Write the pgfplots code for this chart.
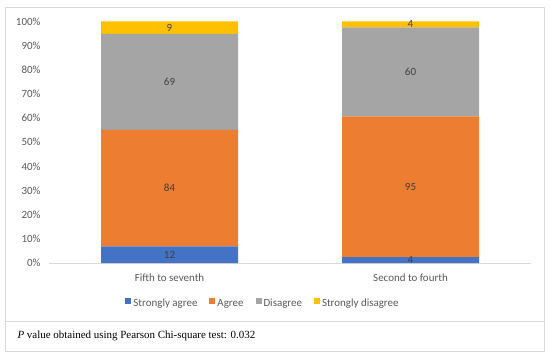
\documentclass[border=0pt]{standalone}
\usepackage{fontspec}
\setmainfont{Carlito}
\newfontfamily\capfont{Liberation Serif}
\usepackage{pgfplots}
\usepackage{pgfplotstable}
\pgfplotsset{compat=1.18}
\definecolor{cSA}{HTML}{4472C4}
\definecolor{cA}{HTML}{ED7D31}
\definecolor{cD}{HTML}{A5A5A5}
\definecolor{cSD}{HTML}{FFC000}
\definecolor{txt}{HTML}{595959}
\definecolor{lbl}{HTML}{404040}
\definecolor{frame}{HTML}{D9D9D9}
\pgfplotstableread{
x sa a d sd
0 12 84 69 9
1 4 95 60 4
}\data
\newcommand{\T}{(\thisrow{sa}+\thisrow{a}+\thisrow{d}+\thisrow{sd})}
\pgfplotsset{
  common/.style={
    at={(49bp,95bp)}, anchor=south west,
    scale only axis, width=482bp, height=241.5bp,
    xmin=-0.5, xmax=1.5, ymin=0, ymax=100,
    /pgf/number format/assume math mode=true,
  },
  sq/.style={legend image code/.code={\fill[##1] (0bp,0.5bp) rectangle (6bp,6.5bp);}},
}
\begin{document}
\begin{tikzpicture}[x=1bp,y=1bp]
\path[use as bounding box] (0,0) rectangle (550,358);
\draw[frame] (5,37) rectangle (544,351);
\draw[frame] (5,7) rectangle (544,37);
\node[anchor=west, font=\capfont\fontsize{11}{13}\selectfont] at (14,22) {\textit{P} value obtained using Pearson Chi-square test: 0.032};
\begin{axis}[common,
  ybar stacked, bar width=137bp,
  axis lines=left,
  axis line style={-},
  y axis line style={draw=none},
  x axis line style={draw=frame},
  major tick length=0pt,
  xtick=data, xticklabels={Fifth to seventh, Second to fourth},
  ytick={0,10,...,100},
  yticklabel={\pgfmathprintnumber{\tick}\%},
  ticklabel style={font=\fontsize{11}{13}\selectfont, text=txt},
  xticklabel style={yshift=-7bp},
  yticklabel style={xshift=-5bp},
  legend columns=4,
  legend style={at={(axis description cs:0.444,-0.17)}, anchor=center, draw=none, fill=none,
    font=\fontsize{11}{13}\selectfont, text=txt,
    nodes={text height=1.6ex, text depth=0.5ex},
    /tikz/every even column/.append style={column sep=10bp},
    legend cell align=left},
]
\addplot[fill=cSA, draw=none, sq] table[x=x, y expr={\thisrow{sa}/\T*100}] {\data};
\addlegendentry{Strongly agree}
\addplot[fill=cA, draw=none, sq] table[x=x, y expr={\thisrow{a}/\T*100}] {\data};
\addlegendentry{Agree}
\addplot[fill=cD, draw=none, sq] table[x=x, y expr={\thisrow{d}/\T*100}] {\data};
\addlegendentry{Disagree}
\addplot[fill=cSD, draw=none, sq] table[x=x, y expr={\thisrow{sd}/\T*100}] {\data};
\addlegendentry{Strongly disagree}
\end{axis}
\begin{axis}[common, hide axis,
  every node near coord/.append style={font=\fontsize{11}{13}\selectfont, text=lbl, anchor=center},
]
\addplot[draw=none, mark=none, nodes near coords, point meta=explicit]
  table[x=x, y expr={(\thisrow{sa}/2)/\T*100}, meta=sa] {\data};
\addplot[draw=none, mark=none, nodes near coords, point meta=explicit]
  table[x=x, y expr={(\thisrow{sa}+\thisrow{a}/2)/\T*100}, meta=a] {\data};
\addplot[draw=none, mark=none, nodes near coords, point meta=explicit]
  table[x=x, y expr={(\thisrow{sa}+\thisrow{a}+\thisrow{d}/2)/\T*100}, meta=d] {\data};
\addplot[draw=none, mark=none, nodes near coords, point meta=explicit]
  table[x=x, y expr={(\thisrow{sa}+\thisrow{a}+\thisrow{d}+\thisrow{sd}/2)/\T*100}, meta=sd] {\data};
\end{axis}
\end{tikzpicture}
\end{document}
